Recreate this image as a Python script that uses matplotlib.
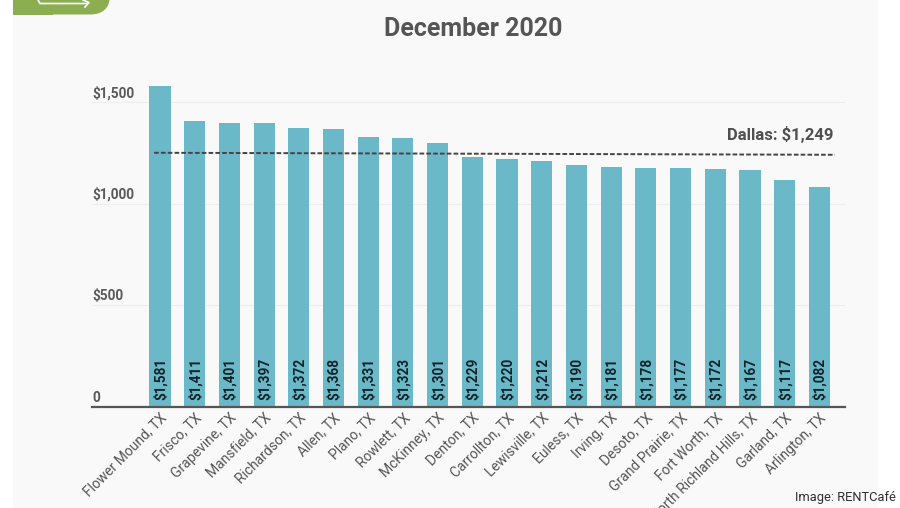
import matplotlib
matplotlib.use("Agg")
import matplotlib.pyplot as plt
from matplotlib.patches import FancyBboxPatch, Rectangle
from matplotlib.transforms import ScaledTranslation

cities = ["Flower Mound, TX", "Frisco, TX", "Grapevine, TX", "Mansfield, TX",
          "Richardson, TX", "Allen, TX", "Plano, TX", "Rowlett, TX",
          "McKinney, TX", "Denton, TX", "Carrollton, TX", "Lewisville, TX",
          "Euless, TX", "Irving, TX", "Desoto, TX", "Grand Prairie, TX",
          "Fort Worth, TX", "North Richland Hills, TX", "Garland, TX",
          "Arlington, TX"]
rents = [1581, 1411, 1401, 1397, 1372, 1368, 1331, 1323, 1301, 1229,
         1220, 1212, 1190, 1181, 1178, 1177, 1172, 1167, 1117, 1082]
y_ticks = [0, 500, 1000, 1500]
y_labels = ["0", "$500", "$1,000", "$1,500"]
dallas_ends = [1252, 1242]
dallas_label = "Dallas: $1,249"

W, H = 900, 508
plt.rcParams["font.family"] = ["Roboto", "DejaVu Sans"]

fig = plt.figure(figsize=(W / 100, H / 100), dpi=100, facecolor="white")

# background layer in pixel coordinates: panel, badge, arrow
bg = fig.add_axes([0, 0, 1, 1], zorder=-1)
bg.set_xlim(0, W)
bg.set_ylim(H, 0)
bg.axis("off")
bg.add_patch(Rectangle((13, 0), 865, H, facecolor="#f9f9f9", edgecolor="none"))
bg.add_patch(FancyBboxPatch((13, -40), 97, 54.5, boxstyle="round,pad=0,rounding_size=20",
                            facecolor="#8aae50", edgecolor="none"))
bg.add_patch(Rectangle((13, 0), 40, 14.5, facecolor="#8aae50", edgecolor="none"))
bg.plot([38, 40, 87], [0, 3.5, 3.5], color="white", linewidth=1.2)
bg.plot([83, 89, 85], [0, 2.5, 7], color="white", linewidth=1.2)

top_value = 1600
ax = fig.add_axes([92 / W, (H - 406.5) / H, 753 / W, 304 / H * top_value / 1500])
ax.patch.set_alpha(0)
xs = list(range(len(cities)))
ax.bar(xs, rents, width=0.61, color="#6bb9c8", edgecolor="none", zorder=2)

ax.set_xlim(-1.96, 19.74)
ax.set_ylim(0, top_value)
ax.set_yticks(y_ticks)
ax.set_yticklabels(y_labels, fontsize=9.8, color="#5a5a5a", fontweight="bold",
                   va="bottom", ha="left")
ax.tick_params(axis="y", length=0, pad=0)
lift = ScaledTranslation(0, 2 / 100, fig.dpi_scale_trans)
for lab in ax.get_yticklabels():
    lab.set_x(0)
    lab.set_transform(ax.get_yaxis_transform() + lift)
ax.grid(axis="y", color="#eeeeee", linewidth=0.8, zorder=0)
ax.set_axisbelow(True)

ax.set_xticks(xs)
ax.set_xticklabels(cities, rotation=45, ha="right", rotation_mode="anchor",
                   fontsize=10, color="#555555")
ax.tick_params(axis="x", length=0, pad=3)

for side in ["top", "right", "left"]:
    ax.spines[side].set_visible(False)
ax.spines["bottom"].set_color("#555555")
ax.spines["bottom"].set_linewidth(1.6)

for x, v in zip(xs, rents):
    ax.text(x + 0.02, 31, f"${v:,}", rotation=90, ha="center", va="bottom", fontsize=9.8,
            color="#10242a", fontweight="bold", zorder=3)

ax.plot([-0.17, 19.45], dallas_ends, color="#444444", linewidth=1.4,
        linestyle=(0, (2.4, 1.1)), zorder=4)
ax.text(19.4, 1300, dallas_label, ha="right", va="bottom", fontsize=12,
        fontweight="bold", color="#4f4f4f")

fig.text(473 / W, 1 - 26 / H, "December 2020", ha="center", va="center_baseline", fontsize=18,
         fontweight="bold", color="#555555")
fig.text(896 / W, 1 - 497 / H, "Image: RENTCafé", ha="right", va="center", fontsize=9.3,
         color="#2e2e2e")

fig.savefig("out.png", dpi=100, facecolor="white")
